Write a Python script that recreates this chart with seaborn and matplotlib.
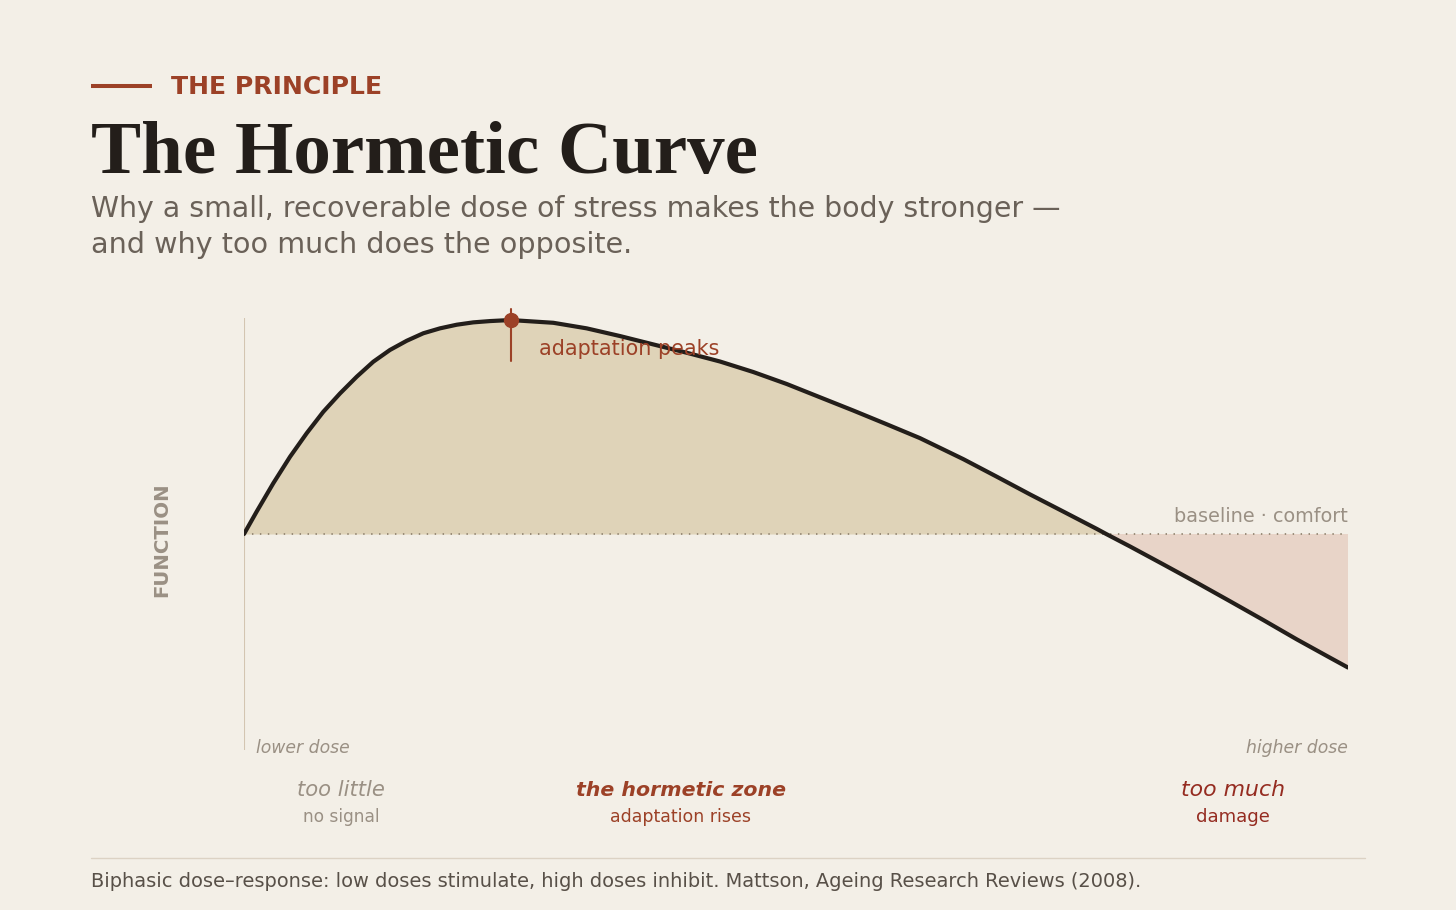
import numpy as np
import pandas as pd
import matplotlib
matplotlib.use("Agg")
import matplotlib.pyplot as plt
from matplotlib.lines import Line2D
import seaborn as sns

# ---------------- data ----------------
dose = [0.0, 1.15, 2.65, 4.17, 5.68, 7.18, 8.70, 10.21, 11.71, 13.22, 14.74,
        16.24, 17.75, 19.27, 20.77, 22.28, 24.16, 25.00, 28.02, 31.04, 34.06,
        37.07, 40.10, 43.12, 46.13, 49.16, 52.17, 55.19, 58.21, 61.23, 65.15,
        68.18, 71.20, 74.21, 77.24, 78.10, 80.25, 83.27, 86.29, 89.31, 92.33,
        95.35, 98.37, 100.0]
response = [0.000, 0.105, 0.237, 0.361, 0.471, 0.571, 0.657, 0.735, 0.805,
            0.860, 0.903, 0.938, 0.961, 0.978, 0.989, 0.995, 1.000, 0.997,
            0.987, 0.961, 0.925, 0.886, 0.847, 0.806, 0.757, 0.701, 0.639,
            0.577, 0.513, 0.448, 0.350, 0.268, 0.185, 0.105, 0.024, 0.000,
            -0.058, -0.142, -0.227, -0.314, -0.402, -0.492, -0.578, -0.624]
zone_names = ["too little", "the hormetic zone", "too much"]
zone_notes = ["no signal", "adaptation rises", "damage"]
axis_ends = ["lower dose", "higher dose"]
baseline_label = "baseline · comfort"
peak_label = "adaptation peaks"
y_label = "FUNCTION"
kicker = "THE PRINCIPLE"
title = "The Hormetic Curve"
subtitle = ["Why a small, recoverable dose of stress makes the body stronger —",
            "and why too much does the opposite."]
footer = ("Biphasic dose–response: low doses stimulate, high doses inhibit. "
          "Mattson, Ageing Research Reviews (2008).")

# ---------------- style ----------------
BG = "#f3efe7"
RUST = "#9c4127"
CRIMSON = "#952c21"
DARK = "#231e1a"
SUB = "#6a6158"
MUTED = "#9a9084"
TAN = "#dfd3b8"
PINK = "#e8d4c8"
AXLINE = "#d3c5b1"
DOTS = "#938672"
FOOT = "#585048"
SEP = "#dcd2c4"

sns.set_theme(style="white")
plt.rcParams['font.family'] = ['DejaVu Sans']

W, H = 1456, 910
fig = plt.figure(figsize=(W / 100, H / 100), dpi=100, facecolor=BG)
ax = fig.add_axes([244 / W, (H - 760) / H, 1104 / W, 460 / H])
ax.set_facecolor("none")

df = pd.DataFrame({"dose": dose, "response": response})
x = df["dose"].to_numpy()
y = df["response"].to_numpy()

ax.fill_between(x, y, 0, where=y >= 0, interpolate=True, color=TAN, lw=0, zorder=1)
ax.fill_between(x, y, 0, where=y <= 0, interpolate=True, color=PINK, lw=0, zorder=1)
# baseline (dotted)
ax.plot([x.min(), x.max()], [0, 0], color=DOTS, lw=1.3, ls=(0, (0.8, 3.6)), zorder=2)
# vertical axis line
ax.plot([0, 0], [1.009, -1.009], color=AXLINE, lw=1.5, zorder=1.5,
        solid_capstyle="butt")

sns.lineplot(data=df, x="dose", y="response", ax=ax, color=DARK, lw=3.0,
             estimator=None, sort=False, zorder=4,
             solid_capstyle="round", solid_joinstyle="round")

i = int(np.argmax(y))
px, py = x[i], y[i]
ax.plot([px, px], [py + 0.05, py - 0.19], color=RUST, lw=1.5, zorder=5)
ax.plot([px], [py], "o", ms=10, color=RUST, mec=RUST, zorder=6)

ax.set_xlim(0, 100)
ax.set_ylim(-1.056, 1.0935)
ax.axis("off")

# ---------------- text helpers ----------------
fig.canvas.draw()
R = fig.canvas.get_renderer()


def T(xp, yp, s, w, ha="left", va="baseline", rot=0, **kw):
    t = fig.text(xp / W, 1 - yp / H, s, ha=ha, va=va, rotation=rot,
                 fontsize=20, **kw)
    bb = t.get_window_extent(renderer=R)
    size = bb.height if rot == 90 else bb.width
    t.set_fontsize(20 * w / size)
    return t


# kicker bar + text
fig.add_artist(Line2D([91 / W, 152 / W], [1 - 86 / H, 1 - 86 / H],
                      color=RUST, lw=2.9, solid_capstyle="butt"))
T(171, 94, kicker, 211, color=RUST, fontweight="bold")
T(91, 173, title, 667, color=DARK, fontweight="bold", family=["Liberation Serif"])
T(91, 217, subtitle[0], 967, color=SUB)
T(91, 253, subtitle[1], 540, color=SUB)

T(162, 540, y_label, 114, ha="center", va="center", rot=90, color=MUTED,
  fontweight="bold")
T(539, 355, peak_label, 180, color=RUST)
T(1348, 522, baseline_label, 174, ha="right", color=MUTED)
T(256, 753, axis_ends[0], 94, color=MUTED, style="italic")
T(1348, 753, axis_ends[1], 102, ha="right", color=MUTED, style="italic")

zone_x = [341, 681, 1233]
name_w = [88, 210, 104]
note_w = [77, 140, 74]
name_col = [MUTED, RUST, CRIMSON]
note_col = [MUTED, RUST, CRIMSON]
name_wt = ["normal", "bold", "normal"]
for k in range(3):
    T(zone_x[k], 796, zone_names[k], name_w[k], ha="center", color=name_col[k],
      style="italic", fontweight=name_wt[k])
    T(zone_x[k], 822, zone_notes[k], note_w[k], ha="center", color=note_col[k])

fig.add_artist(Line2D([91 / W, 1365 / W], [1 - 858 / H, 1 - 858 / H],
                      color=SEP, lw=1.0))
T(91, 887, footer, 1050, color=FOOT)

fig.savefig("out.png", dpi=100, facecolor=BG)
